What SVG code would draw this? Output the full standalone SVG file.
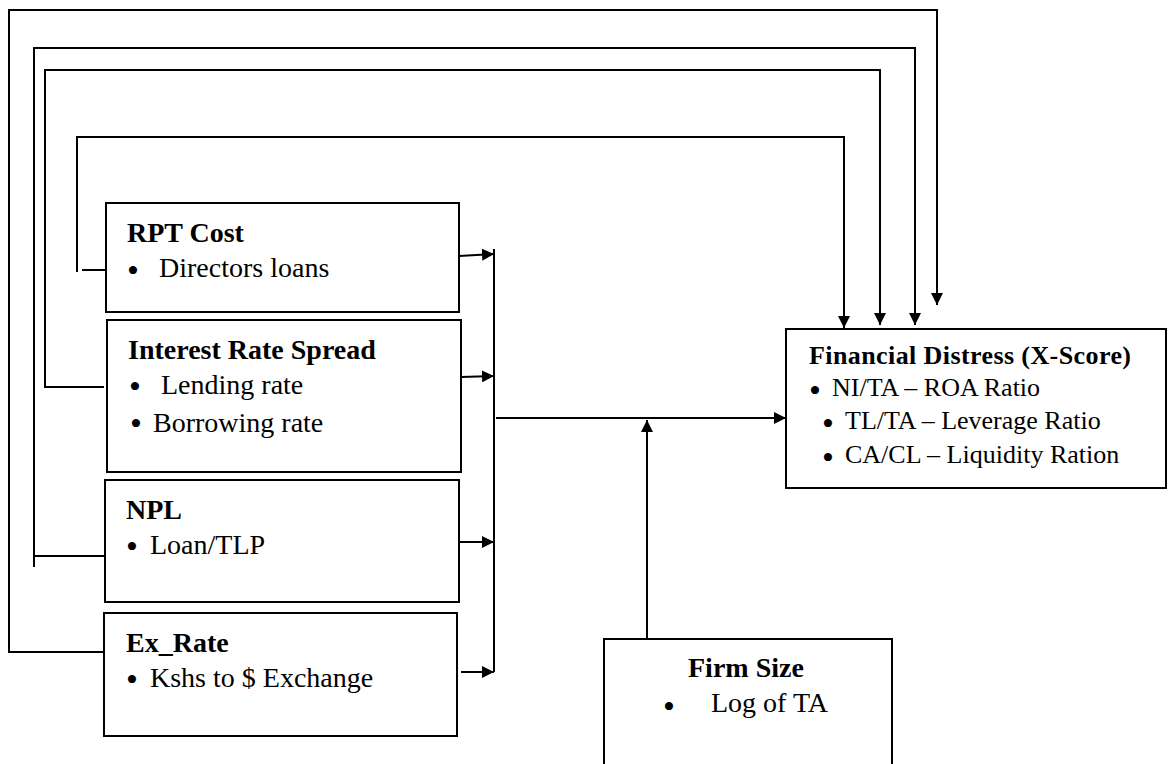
<svg xmlns="http://www.w3.org/2000/svg" width="1168" height="764" viewBox="0 0 1168 764">
<style>
.box{fill:#fff;stroke:#000;stroke-width:2}
.ln{fill:none;stroke:#000;stroke-width:2}
.ar{fill:none;stroke:#000;stroke-width:2;marker-end:url(#ah)}
text{font-family:"Liberation Serif","Times New Roman",serif;fill:#000}
.h{font-weight:bold;font-size:28px}
.t{font-size:28px}
.hs{font-weight:bold;font-size:26px}
.ts{font-size:26px}
.b{font-size:34px}
</style>
<defs>
<marker id="ah" markerWidth="12" markerHeight="12" refX="12" refY="6" orient="auto" markerUnits="userSpaceOnUse">
<path d="M0,0 L12,6 L0,12 Z" fill="#000"/>
</marker>
</defs>
<rect width="1168" height="764" fill="#fff"/>
<g id="connectors">
<polyline class="ar" points="103,652 9,652 9,10 937,10 937,305"/>
<polyline class="ln" points="34,567 34,48 915,48"/>
<line class="ar" x1="915" y1="47" x2="915" y2="325"/>
<line class="ln" x1="34" y1="556" x2="104" y2="556"/>
<polyline class="ar" points="104,387 45,387 45,70 880,70 880,325"/>
<polyline class="ln" points="77,272 77,137 844,137"/>
<line class="ar" x1="844" y1="136" x2="844" y2="328"/>
<line class="ln" x1="82" y1="270" x2="106" y2="270"/>
<line class="ln" x1="494" y1="249" x2="494" y2="672"/>
<line class="ar" x1="459" y1="256" x2="494" y2="254"/>
<line class="ar" x1="461" y1="377" x2="494" y2="376"/>
<line class="ar" x1="459" y1="542" x2="494" y2="542"/>
<line class="ar" x1="461" y1="672" x2="494" y2="672"/>
<line class="ar" x1="496" y1="418" x2="786" y2="418"/>
<line class="ar" x1="647" y1="639" x2="647" y2="420"/>
</g>
<g id="rpt">
<rect class="box" x="106" y="203" width="353" height="109"/>
<text class="h" x="127" y="242">RPT Cost</text>
<text class="t"><tspan class="b" x="127" y="282">•</tspan><tspan x="159" y="277">Directors loans</tspan></text>
</g>
<g id="interest">
<rect class="box" x="107" y="320" width="354" height="152"/>
<text class="h" x="128" y="359">Interest Rate Spread</text>
<text class="t"><tspan class="b" x="129" y="398">•</tspan><tspan x="161" y="394">Lending rate</tspan></text>
<text class="t"><tspan class="b" x="130" y="435">•</tspan><tspan x="153" y="432">Borrowing rate</tspan></text>
</g>
<g id="npl">
<rect class="box" x="105" y="480" width="354" height="122"/>
<text class="h" x="126" y="519">NPL</text>
<text class="t"><tspan class="b" x="126" y="558">•</tspan><tspan x="150" y="554">Loan/TLP</tspan></text>
</g>
<g id="exrate">
<rect class="box" x="104" y="613" width="353" height="123"/>
<text class="h" x="126" y="652">Ex_Rate</text>
<text class="t"><tspan class="b" x="126" y="691">•</tspan><tspan x="150" y="687">Kshs to $ Exchange</tspan></text>
</g>
<g id="distress">
<rect class="box" x="786" y="329" width="380" height="159"/>
<text class="hs" x="809" y="364" textLength="322" lengthAdjust="spacing">Financial Distress (X-Score)</text>
<text class="ts"><tspan class="b" x="809" y="402">•</tspan><tspan x="832" y="396">NI/TA – ROA Ratio</tspan></text>
<text class="ts"><tspan class="b" x="822" y="435">•</tspan><tspan x="845" y="429">TL/TA – Leverage Ratio</tspan></text>
<text class="ts"><tspan class="b" x="822" y="469">•</tspan><tspan x="845" y="463">CA/CL – Liquidity Ration</tspan></text>
</g>
<g id="firmsize">
<rect class="box" x="604" y="639" width="288" height="140"/>
<text class="h" x="688" y="677">Firm Size</text>
<text class="t"><tspan class="b" x="663" y="718">•</tspan><tspan x="711" y="712">Log of TA</tspan></text>
</g>
</svg>
